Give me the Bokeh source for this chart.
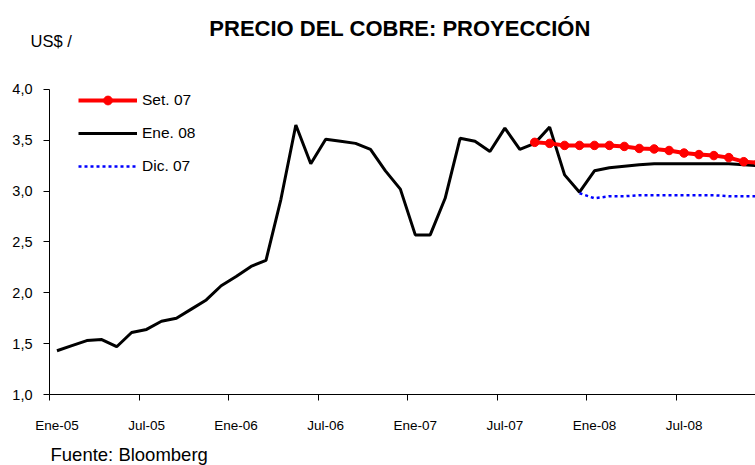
from bokeh.plotting import figure
from bokeh.models import Range1d, FixedTicker, Label, Legend, LegendItem
from bokeh.embed import file_html
from bokeh.resources import INLINE

# ---- data -------------------------------------------------------------
MESES = ["Ene", "Feb", "Mar", "Abr", "May", "Jun", "Jul", "Ago", "Set", "Oct", "Nov", "Dic"]
ANIOS = ["05", "06", "07", "08"]
months = [f"{m}-{a}" for a in ANIOS for m in MESES]

# Ene. 08 (history + projection), US$/lb
ene08 = [1.43, 1.48, 1.53, 1.54, 1.47, 1.61, 1.64, 1.72, 1.75, 1.84, 1.93, 2.07,
         2.16, 2.26, 2.32, 2.92, 3.65, 3.27, 3.51, 3.49, 3.47, 3.41, 3.20, 3.02,
         2.57, 2.57, 2.93, 3.52, 3.49, 3.39, 3.62, 3.41, 3.47, 3.63, 3.16, 2.99,
         3.20, 3.23, 3.245, 3.26, 3.27, 3.27, 3.27, 3.27, 3.27, 3.27, 3.26, 3.25]

set07_start = "Set-07"
set07 = [3.48, 3.47, 3.45, 3.45, 3.45, 3.45, 3.44, 3.42, 3.415, 3.40, 3.375,
         3.36, 3.35, 3.33, 3.29, 3.28]

dic07_start = "Dic-07"
dic07 = [2.98, 2.93, 2.95, 2.95, 2.96, 2.96, 2.96, 2.96, 2.96, 2.96, 2.95, 2.95, 2.95]

x_tick_labels = ["Ene-05", "Jul-05", "Ene-06", "Jul-06", "Ene-07", "Jul-07", "Ene-08", "Jul-08"]
y_ticks = [1.0, 1.5, 2.0, 2.5, 3.0, 3.5, 4.0]
y_tick_labels = ["1,0", "1,5", "2,0", "2,5", "3,0", "3,5", "4,0"]

TITLE = "PRECIO DEL COBRE: PROYECCIÓN"
UNIT = "US$ /"
SOURCE = "Fuente: Bloomberg"

# ---- layout (pixels) -------------------------------------------------------
W, H = 755, 465
AX_X_PX = 49        # pixel column of the y axis (start of Ene-05)
AX_Y_PX = 394       # pixel row of the x axis (value 1.0)
PX_MONTH = 14.93
PX_UNIT = 101.67

def dx(px):
    return (px - AX_X_PX) / PX_MONTH

def dy(py):
    return y_ticks[0] + (AX_Y_PX - py) / PX_UNIT

def xs_from(start_label, n):
    s = months.index(start_label)
    return [s + i + 0.5 for i in range(n)]

FONT = "Liberation Sans"

p = figure(width=W, height=H, output_backend="svg", toolbar_location=None,
           x_range=Range1d(dx(0), dx(W)), y_range=Range1d(dy(H), dy(0)),
           min_border=0, min_border_left=0, min_border_right=0,
           min_border_top=0, min_border_bottom=0)
p.outline_line_color = None
p.xgrid.visible = False
p.ygrid.visible = False
p.background_fill_color = "white"
p.border_fill_color = "white"
p.title.visible = False

black = p.line(xs_from(months[0], len(ene08)), ene08, line_color="black", line_width=3)
blue = p.line(xs_from(dic07_start, len(dic07)), dic07, line_color="#0000FF",
              line_width=2.5, line_dash="3 3")
red_line = p.line(xs_from(set07_start, len(set07)), set07, line_color="#FF0000", line_width=4)
red_pts = p.scatter(xs_from(set07_start, len(set07)), set07, size=8.5,
                    fill_color="#FF0000", line_color="#FF0000")

# x axis: labels at category centres, tick marks at category boundaries
centers = [months.index(l) + 0.5 for l in x_tick_labels]
bounds = [months.index(l) for l in x_tick_labels] + [len(months)]
xa = p.xaxis[0]
xa.fixed_location = y_ticks[0]
xa.bounds = (0, dx(W))
xa.ticker = FixedTicker(ticks=centers, minor_ticks=bounds)
xa.major_label_overrides = {c: l for c, l in zip(centers, x_tick_labels)}
xa.major_tick_line_color = None
xa.major_tick_out = 0
xa.major_tick_in = 0
xa.minor_tick_line_color = "black"
xa.minor_tick_out = 6
xa.minor_tick_in = 0
xa.major_label_standoff = 17
xa.major_label_text_font = FONT
xa.major_label_text_font_size = "13.5px"
xa.major_label_text_color = "black"
xa.axis_line_color = "black"

ya = p.yaxis[0]
ya.fixed_location = 0
ya.bounds = (y_ticks[0], y_ticks[-1])
ya.ticker = FixedTicker(ticks=y_ticks)
ya.major_label_overrides = {v: l for v, l in zip(y_ticks, y_tick_labels)}
ya.major_tick_out = 6
ya.major_tick_in = 0
ya.minor_tick_line_color = None
ya.major_label_standoff = 11
ya.major_label_text_font = FONT
ya.major_label_text_font_size = "14.5px"
ya.major_label_text_color = "black"
ya.axis_line_color = "black"

legend = Legend(items=[LegendItem(label="Set. 07", renderers=[red_line, red_pts]),
                       LegendItem(label="Ene. 08", renderers=[black]),
                       LegendItem(label="Dic. 07", renderers=[blue])],
                location=(78, H - 89 - 88), glyph_width=59, glyph_height=22,
                label_height=22, spacing=11, padding=0, label_standoff=5,
                border_line_color=None, background_fill_alpha=0, label_text_font=FONT,
                label_text_font_size="15.5px", label_text_color="black")
p.add_layout(legend)

p.add_layout(Label(x=dx(399.5), y=dy(27.5), text=TITLE, text_align="center",
                   text_baseline="alphabetic", text_font=FONT, text_font_style="bold",
                   text_font_size="22px", text_color="black"))
p.add_layout(Label(x=dx(30), y=dy(40), text=UNIT, text_align="left",
                   text_baseline="alphabetic", text_font=FONT,
                   text_font_size="16.5px", text_color="black"))
p.add_layout(Label(x=dx(50), y=dy(454), text=SOURCE, text_align="left",
                   text_baseline="alphabetic", text_font=FONT,
                   text_font_size="18.5px", text_color="black"))

open("out.html", "w").write(file_html(p, INLINE))
